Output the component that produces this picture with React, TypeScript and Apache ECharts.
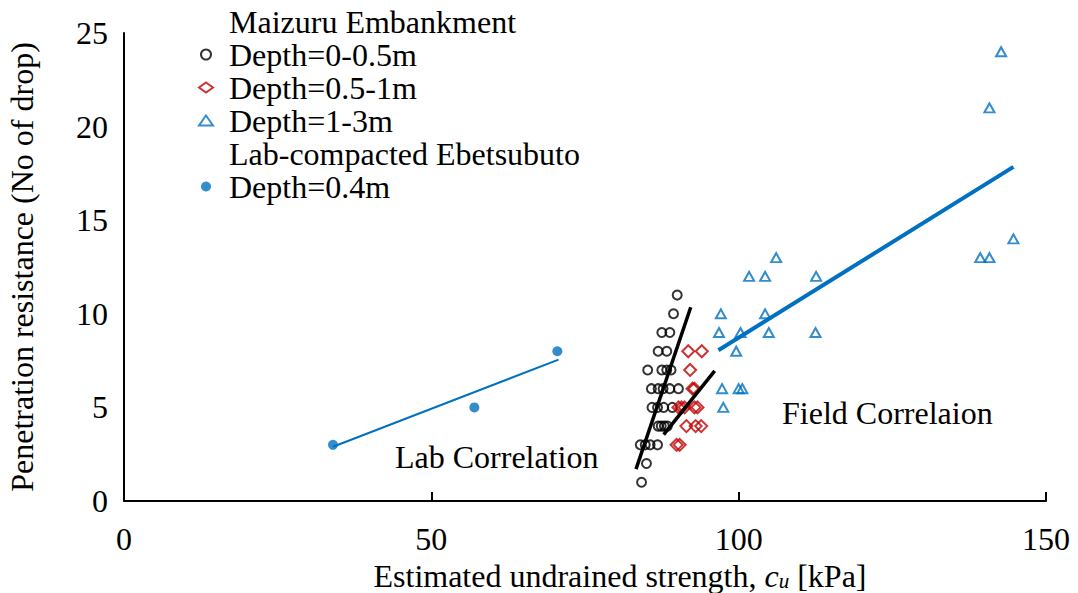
import React, { useEffect, useRef } from "react";
import * as echarts from "echarts";

const FONT = "'Liberation Serif', 'Times New Roman', Tinos, 'DejaVu Serif', serif";
const FS = 32;

const xTicks = { min: 0, max: 150, interval: 50 };
const yTicks = { min: 0, max: 25, interval: 5 };

const maizuruShallow: number[][] = [
  [90.0, 11], [89.4, 10], [87.5, 9], [88.8, 9], [86.9, 8], [88.3, 8],
  [85.2, 7], [87.5, 7], [88.3, 7], [89.0, 7],
  [85.8, 6], [86.9, 6], [87.7, 6], [88.8, 6], [90.2, 6],
  [85.9, 5], [86.8, 5], [87.8, 5], [89.2, 5],
  [86.9, 4], [87.4, 4], [87.9, 4], [88.4, 4],
  [84.0, 3], [84.8, 3], [85.6, 3], [86.8, 3],
  [85.0, 2], [84.2, 1],
];

const maizuruMid: number[][] = [
  [91.8, 8], [94.0, 8], [92.1, 7], [92.5, 6], [92.8, 6],
  [90.2, 5], [90.7, 5], [91.2, 5], [92.8, 5], [93.3, 5],
  [91.5, 4], [93.0, 4], [93.9, 4], [89.9, 3], [90.4, 3],
];

const maizuruDeep: number[][] = [
  [106.1, 13], [101.7, 12], [104.3, 12], [112.6, 12],
  [97.1, 10], [104.3, 10],
  [96.8, 9], [100.3, 9], [104.9, 9], [112.5, 9],
  [99.6, 8], [97.3, 6], [100.0, 6], [100.6, 6], [97.5, 5],
  [142.7, 24], [140.8, 21], [144.7, 14], [139.3, 13], [140.8, 13],
];

const labPoints: number[][] = [[34.0, 3], [57.0, 5], [70.5, 8]];

const fieldLine: number[][] = [[96.7, 8.05], [144.7, 17.85]];
const labLine: number[][] = [[34.0, 2.9], [70.7, 7.55]];
const shallowLine: number[][] = [[83.3, 1.7], [92.2, 10.35]];
const midLine: number[][] = [[87.8, 3.55], [96.1, 6.95]];

const legendNames = [
  "Maizuru Embankment",
  "Depth=0-0.5m",
  "Depth=0.5-1m",
  "Depth=1-3m",
  "Lab-compacted Ebetsubuto",
  "Depth=0.4m",
];

const annotations = ["Lab Correlation", "Field Correlaion"];

const BLACK = "#000000";
const RED = "#C00000";
const BLUE = "#0070C0";

export default function App() {
  const ref = useRef<HTMLDivElement>(null);
  useEffect(() => {
    if (!ref.current) return;
    const chart = echarts.init(ref.current, undefined, { renderer: "svg" });
    const lineSeries = (name: string, data: number[][], color: string, width: number) => ({
      name,
      type: "line",
      data,
      symbol: "none",
      lineStyle: { color, width, cap: "butt" },
      z: 3,
      silent: true,
    });
    chart.setOption({
      animation: false,
      textStyle: { fontFamily: FONT, color: BLACK },
      grid: { left: 124, right: 32, top: 33, bottom: 92, outerBoundsMode: "none" },
      xAxis: {
        type: "value",
        min: xTicks.min,
        max: xTicks.max,
        interval: xTicks.interval,
        splitLine: { show: false },
        axisLine: { lineStyle: { color: BLACK, width: 2 } },
        axisTick: { show: true, inside: true, length: 9, lineStyle: { color: BLACK, width: 2 } },
        axisLabel: { fontFamily: FONT, fontSize: FS, color: BLACK, margin: 22 },
        name: "{a|Estimated undrained strength, }{i|c}{s|u}{a| [kPa]}",
        nameLocation: "middle",
        nameGap: 57,
        nameTextStyle: {
          padding: [0, 0, 0, 70],
          rich: {
            a: { fontFamily: FONT, fontSize: FS, color: BLACK, lineHeight: 32, verticalAlign: "bottom" },
            i: { fontFamily: FONT, fontSize: FS, color: BLACK, fontStyle: "italic", lineHeight: 32, verticalAlign: "bottom" },
            s: { fontFamily: FONT, fontSize: 21, color: BLACK, fontStyle: "italic", lineHeight: 21, verticalAlign: "bottom" },
          },
        },
      },
      yAxis: {
        type: "value",
        min: yTicks.min,
        max: yTicks.max,
        interval: yTicks.interval,
        splitLine: { show: false },
        axisLine: { show: true, lineStyle: { color: BLACK, width: 2 } },
        axisTick: { show: false },
        axisLabel: { fontFamily: FONT, fontSize: FS, color: BLACK, margin: 16 },
        name: "Penetration resistance (No of drop)",
        nameLocation: "middle",
        nameGap: 86,
        nameTextStyle: { fontFamily: FONT, fontSize: FS, color: BLACK },
      },
      legend: {
        orient: "vertical",
        left: 193,
        top: 0,
        itemGap: 0,
        itemWidth: 14,
        itemHeight: 10,
        selectedMode: false,
        textStyle: { fontFamily: FONT, fontSize: FS, color: BLACK, lineHeight: 33, padding: [0, 0, 0, 11] },
        data: [
          { name: legendNames[0], icon: "none" },
          { name: legendNames[1] },
          { name: legendNames[2] },
          { name: legendNames[3] },
          { name: legendNames[4], icon: "none" },
          { name: legendNames[5] },
        ],
      },
      graphic: [
        {
          type: "text",
          left: 395,
          top: 441,
          style: { text: annotations[0], font: `${FS}px ${FONT}`, fill: BLACK },
        },
        {
          type: "text",
          left: 782,
          top: 397,
          style: { text: annotations[1], font: `${FS}px ${FONT}`, fill: BLACK },
        },
      ],
      series: [
        { name: legendNames[0], type: "scatter", data: [] },
        {
          name: legendNames[1],
          type: "scatter",
          data: maizuruShallow,
          symbol: "circle",
          symbolSize: 9,
          itemStyle: { color: "rgba(0,0,0,0)", borderColor: BLACK, borderWidth: 2 },
          z: 2,
        },
        {
          name: legendNames[2],
          type: "scatter",
          data: maizuruMid,
          symbol: "diamond",
          symbolSize: 12,
          itemStyle: { color: "rgba(0,0,0,0)", borderColor: RED, borderWidth: 2 },
          z: 2,
        },
        {
          name: legendNames[3],
          type: "scatter",
          data: maizuruDeep,
          symbol: "triangle",
          symbolSize: [10, 9],
          itemStyle: { color: "rgba(0,0,0,0)", borderColor: BLUE, borderWidth: 2 },
          z: 2,
        },
        { name: legendNames[4], type: "scatter", data: [] },
        {
          name: legendNames[5],
          type: "scatter",
          data: labPoints,
          symbol: "circle",
          symbolSize: 10,
          itemStyle: { color: BLUE },
          z: 2,
        },
        lineSeries("fieldLine", fieldLine, BLUE, 4),
        lineSeries("labLine", labLine, BLUE, 2),
        lineSeries("shallowLine", shallowLine, BLACK, 3.5),
        lineSeries("midLine", midLine, BLACK, 3.5),
      ],
    });
    return () => chart.dispose();
  }, []);
  return (
    <div
      ref={ref}
      style={{ position: "absolute", left: 0, top: 0, width: 1078, height: 593 }}
    />
  );
}
